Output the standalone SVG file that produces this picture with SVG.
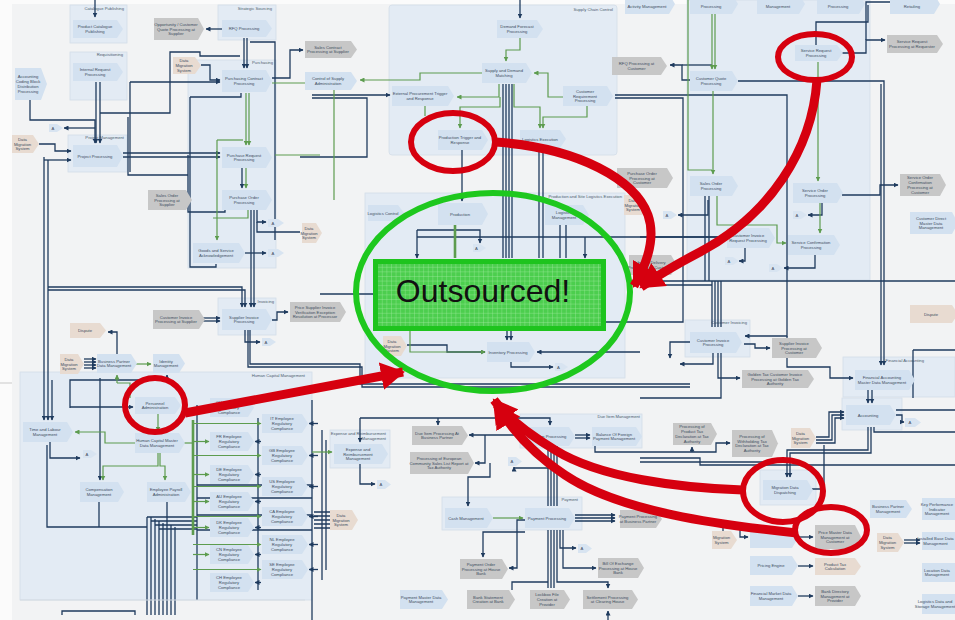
<svg xmlns="http://www.w3.org/2000/svg" width="955" height="620" viewBox="0 0 955 620">
<style>
.nb{fill:#d3e1f0}
.ng{fill:#c7c7c7}
.nt{fill:#e8dbd1}
.na{fill:#d8e4f1}
.reg{fill:#e3ebf4;stroke:#d3dde9;stroke-width:0.8}
.t{font-family:"Liberation Sans",Arial,sans-serif;font-size:4.2px;fill:#3d4d5e;text-anchor:middle}
.rt{font-family:"Liberation Sans",Arial,sans-serif;font-size:4.2px;fill:#4d5d6e;text-anchor:end}
.c{fill:none;stroke:#1f3b5e;stroke-width:1.3}
.g{fill:none;stroke:#5d9c4e;stroke-width:1.2}
.g2{fill:none;stroke:#5d9c4e;stroke-width:2.6}
.sep{fill:none;stroke:#d5dbe2;stroke-width:1}
.red{fill:none;stroke:#d6000f;stroke-width:6}
.ra{fill:none;stroke:#d6000f;stroke-width:9}
</style>
<defs>
<marker id="ad" markerUnits="userSpaceOnUse" markerWidth="5" markerHeight="5" refX="4.5" refY="2.5" orient="auto"><path d="M0,0L5,2.5L0,5z" fill="#1f3b5e"/></marker>
<marker id="ag" markerUnits="userSpaceOnUse" markerWidth="5" markerHeight="5" refX="4.5" refY="2.5" orient="auto"><path d="M0,0L5,2.5L0,5z" fill="#5d9c4e"/></marker>
<marker id="rh" markerUnits="userSpaceOnUse" markerWidth="26" markerHeight="28" refX="22" refY="14" orient="auto"><path d="M0,0L24,14L0,28z" fill="#d6000f"/></marker>
<pattern id="grid" width="4.6" height="4.6" patternUnits="userSpaceOnUse"><rect width="4.6" height="4.6" fill="#3ccb3c" fill-opacity="0.9"/><path d="M0,0H4.6M0,0V4.6" stroke="#a4eca4" stroke-width="0.7"/></pattern>
</defs>
<rect width="955" height="620" fill="#fbfbfb"/>
<rect x="12" y="4" width="943" height="616" fill="#f2f3f4"/>
<path d="M0,383H12" stroke="#c9c9c9" stroke-width="1"/>

<g id="regions">
<rect class="reg" x="70" y="5" width="57" height="38"/>
<rect class="reg" x="70" y="52" width="57" height="48"/>
<rect class="reg" x="218" y="5" width="58" height="35"/>
<rect class="reg" x="188" y="60" width="88" height="208"/>
<rect class="reg" x="68" y="135" width="59" height="37"/>
<rect class="reg" x="389" y="5" width="228" height="150" rx="3"/>
<rect class="reg" x="365" y="193" width="260" height="185"/>
<rect class="reg" x="687" y="0" width="183" height="280"/>
<rect class="reg" x="685" y="320" width="65" height="37"/>
<rect class="reg" x="218" y="298" width="58" height="37"/>
<rect class="reg" x="843" y="357" width="112" height="40"/>
<rect class="reg" x="842" y="398" width="60" height="32"/>
<rect class="reg" x="760" y="470" width="56" height="35"/>
<rect class="reg" x="20" y="372" width="292" height="228"/>
<rect class="reg" x="330" y="430" width="60" height="38"/>
<rect class="reg" x="442" y="497" width="140" height="33"/>
<rect class="reg" x="520" y="414" width="122" height="34"/>
<text class="rt" x="124" y="10">Catalogue Publishing</text>
<text class="rt" x="123" y="56">Requisitioning</text>
<text class="rt" x="272" y="10">Strategic Sourcing</text>
<text class="rt" x="273" y="64">Purchasing</text>
<text class="rt" x="124" y="139">Project Management</text>
<text class="rt" x="613" y="11">Supply Chain Control</text>
<text class="rt" x="622" y="198">Production and Site Logistics Execution</text>
<text class="rt" x="274" y="303">Invoicing</text>
<text class="rt" x="747" y="324">Customer Invoicing</text>
<text class="rt" x="924" y="362">Financial Accounting</text>
<text class="rt" x="305" y="377">Human Capital Management</text>
<text class="rt" x="386" y="435">Expense and Reimbursement</text>
<text class="rt" x="386" y="440">Management</text>
<text class="rt" x="578" y="501">Payment</text>
<text class="rt" x="640" y="418">Due Item Management</text>
</g>

<g id="connectors">
<path class="c" d="M95,0V17" marker-end="url(#ad)"/>
<path class="c" d="M222,29H206" marker-end="url(#ad)"/>
<path class="c" d="M244,38V68" marker-end="url(#ad)"/>
<path class="c" d="M247,38V68" marker-end="url(#ad)"/>
<path class="c" d="M250,42H275V240"/>
<path class="c" d="M201,65H210V80H220" marker-end="url(#ad)"/>
<path class="c" d="M272,78H290V50H303" marker-end="url(#ad)"/>
<path class="c" d="M130,82H220" marker-end="url(#ad)"/>
<path class="c" d="M130,82V172"/>
<path class="c" d="M190,97H241V93"/>
<path class="c" d="M190,97V267H216V264"/>
<path class="c" d="M96,82V143" marker-end="url(#ad)"/>
<path class="c" d="M100,82V143" marker-end="url(#ad)"/>
<path class="c" d="M100,113H170V52H200V56H240"/>
<path class="c" d="M123,153H220" marker-end="url(#ad)"/>
<path class="c" d="M123,157H220" marker-end="url(#ad)"/>
<path class="c" d="M39,144H55V151H71" marker-end="url(#ad)"/>
<path class="c" d="M30,100V120H95V143" marker-end="url(#ad)"/>
<path class="c" d="M95,128H64" marker-end="url(#ad)"/>
<path class="c" d="M44,157V420" marker-end="url(#ad)"/>
<path class="c" d="M48,160V420" marker-end="url(#ad)"/>
<path class="c" d="M52,380V420" marker-end="url(#ad)"/>
<path class="c" d="M44,160H71" marker-end="url(#ad)"/>
<path class="c" d="M128,117V175H188"/>
<path class="c" d="M188,155V212H225V209"/>
<path class="c" d="M242,168V188" marker-end="url(#ad)"/>
<path class="c" d="M257,210V222H266" marker-end="url(#ad)"/>
<path class="c" d="M257,222V232H300"/>
<path class="c" d="M245,253H266" marker-end="url(#ad)"/>
<path class="c" d="M48,287H242V307" marker-end="url(#ad)"/>
<path class="c" d="M48,290H245V307" marker-end="url(#ad)"/>
<path class="c" d="M251,210V307" marker-end="url(#ad)"/>
<path class="c" d="M254,210V307" marker-end="url(#ad)"/>
<path class="c" d="M203,318H220" marker-end="url(#ad)"/>
<path class="c" d="M203,321H220" marker-end="url(#ad)"/>
<path class="c" d="M272,320H277V312H288" marker-end="url(#ad)"/>
<path class="c" d="M245,330V342H260" marker-end="url(#ad)"/>
<path class="c" d="M248,330V367H362V387H690"/>
<path class="c" d="M250,330V364H360V384H690"/>
<path class="c" d="M84,359H96" marker-end="url(#ad)"/>
<path class="c" d="M84,362H96" marker-end="url(#ad)"/>
<path class="c" d="M84,365H96" marker-end="url(#ad)"/>
<path class="c" d="M84,368H96" marker-end="url(#ad)"/>
<path class="c" d="M117,354V332H108" marker-end="url(#ad)"/>
<path class="c" d="M70,408V380H167V375" marker-end="url(#ad)"/>
<path class="c" d="M70,407H133" marker-end="url(#ad)"/>
<path class="c" d="M100,378V480" marker-end="url(#ad)"/>
<path class="c" d="M47,445V527H147"/>
<path class="c" d="M99,502V527"/>
<path class="c" d="M50,442V458H80" marker-end="url(#ad)"/>
<path class="c" d="M147,517V615M151,517V615M155,519V615M159,521V615M163,523V615M167,502V615M171,525V615M175,527V615"/>
<path class="c" d="M147,517H197M151,521H197M155,525H197M159,529H197"/>
<path class="c" d="M62,615V611H135V615"/>
<path class="c" d="M197,405V600"/>
<path class="c" d="M312,400V620"/>
<path class="c" d="M258,418V590"/>
<path class="c" d="M197,485H312M197,498H312M197,515H312M197,530H312"/>
<path class="c" d="M318,423.5H309" marker-end="url(#ad)"/>
<path class="c" d="M318,455.5H309" marker-end="url(#ad)"/>
<path class="c" d="M318,486.5H309" marker-end="url(#ad)"/>
<path class="c" d="M318,516.5H309" marker-end="url(#ad)"/>
<path class="c" d="M318,544.5H309" marker-end="url(#ad)"/>
<path class="c" d="M318,569.5H309" marker-end="url(#ad)"/>
<path class="c" d="M261,441.5H255" marker-end="url(#ad)"/>
<path class="c" d="M261,474.5H255" marker-end="url(#ad)"/>
<path class="c" d="M261,501.5H255" marker-end="url(#ad)"/>
<path class="c" d="M261,527.5H255" marker-end="url(#ad)"/>
<path class="c" d="M261,554.5H255" marker-end="url(#ad)"/>
<path class="c" d="M261,582.5H255" marker-end="url(#ad)"/>
<path class="sep" d="M20,600H305"/>
<path class="c" d="M360,418H550V425" marker-end="url(#ad)"/>
<path class="c" d="M360,418V442" marker-end="url(#ad)"/>
<path class="c" d="M438,418V425" marker-end="url(#ad)"/>
<path class="c" d="M525,435H469" marker-end="url(#ad)"/>
<path class="c" d="M485,435V463H475" marker-end="url(#ad)"/>
<path class="c" d="M490,463V477H468V506" marker-end="url(#ad)"/>
<path class="c" d="M548,446V506M551,446V506M554,446V506M557,446V506"/>
<path class="c" d="M548,530V588M551,530V588M554,530V588"/>
<path class="c" d="M575,435H590" marker-end="url(#ad)"/>
<path class="c" d="M575,438H590" marker-end="url(#ad)"/>
<path class="c" d="M550,468H514V467" marker-end="url(#ad)"/>
<path class="c" d="M360,464V484H375" marker-end="url(#ad)"/>
<path class="c" d="M525,520H517V568H509" marker-end="url(#ad)"/>
<path class="c" d="M525,532H483V557" marker-end="url(#ad)"/>
<path class="c" d="M575,515H615" marker-end="url(#ad)"/>
<path class="c" d="M575,518H615" marker-end="url(#ad)"/>
<path class="c" d="M575,521H615" marker-end="url(#ad)"/>
<path class="c" d="M560,530V548H576" marker-end="url(#ad)"/>
<path class="c" d="M563,530V568H596" marker-end="url(#ad)"/>
<path class="c" d="M557,530V582H608V588" marker-end="url(#ad)"/>
<path class="c" d="M608,620V611" marker-end="url(#ad)"/>
<path class="c" d="M512,590V582H548"/>
<path class="c" d="M322,430V580M326,440V570"/>
<path class="c" d="M314,512H330M314,516H330M314,520H330M314,524H330M314,528H330"/>
<path class="c" d="M595,446V452H716V443H730" marker-end="url(#ad)"/>
<path class="c" d="M692,452V447" marker-end="url(#ad)"/>
<path class="c" d="M640,458H700V465H955"/>
<path class="c" d="M640,462H770"/>
<path class="c" d="M816,437H829V412H844" marker-end="url(#ad)"/>
<path class="c" d="M816,440H832V415H844" marker-end="url(#ad)"/>
<path class="c" d="M816,443H835V418H844" marker-end="url(#ad)"/>
<path class="c" d="M896,415H902V422H904" marker-end="url(#ad)"/>
<path class="c" d="M868,427V450H787V477" marker-end="url(#ad)"/>
<path class="c" d="M871,427V453H790V477" marker-end="url(#ad)"/>
<path class="c" d="M874,427V432H955"/>
<path class="c" d="M868,390V403" marker-end="url(#ad)"/>
<path class="c" d="M872,390V403" marker-end="url(#ad)"/>
<path class="c" d="M913,350V398M913,350H955M896,410H955"/>
<path class="c" d="M812,489H824V445"/>
<path class="c" d="M723,531V525H740V537H748" marker-end="url(#ad)"/>
<path class="c" d="M798,537H813" marker-end="url(#ad)"/>
<path class="c" d="M798,566H813" marker-end="url(#ad)"/>
<path class="c" d="M798,596H813" marker-end="url(#ad)"/>
<path class="c" d="M904,540H920" marker-end="url(#ad)"/>
<path class="c" d="M904,543H920" marker-end="url(#ad)"/>
<path class="c" d="M738,81H884V365" marker-end="url(#ad)"/>
<path class="c" d="M881,84V365" marker-end="url(#ad)"/>
<path class="c" d="M615,95H787V336H745" marker-end="url(#ad)"/>
<path class="c" d="M615,98H683V322H606"/>
<path class="c" d="M690,80H682V65H670" marker-end="url(#ad)"/>
<path class="c" d="M712,65H682"/>
<path class="c" d="M842,195H880V185H898" marker-end="url(#ad)"/>
<path class="c" d="M816,45V22H868V5"/>
<path class="c" d="M841,53H866V40H885" marker-end="url(#ad)"/>
<path class="c" d="M866,40V2H890"/>
<path class="c" d="M712,281V327M715,281V327M718,281V327M721,281V327"/>
<path class="c" d="M640,281H955"/>
<path class="c" d="M640,285H712"/>
<path class="c" d="M690,342H670V358" marker-end="url(#ad)"/>
<path class="c" d="M713,353V364H680" marker-end="url(#ad)"/>
<path class="c" d="M744,344H755V348H770" marker-end="url(#ad)"/>
<path class="c" d="M718,353V378H740" marker-end="url(#ad)"/>
<path class="c" d="M787,336V367H830V378H853" marker-end="url(#ad)"/>
<path class="c" d="M721,353V398H640"/>
<path class="c" d="M815,255V268H784" marker-end="url(#ad)"/>
<path class="c" d="M745,248V261H739" marker-end="url(#ad)"/>
<path class="c" d="M640,237H725" marker-end="url(#ad)"/>
<path class="c" d="M705,196V281M709,196V281"/>
<path class="c" d="M708,200V215H678" marker-end="url(#ad)"/>
<path class="c" d="M822,203V215H808" marker-end="url(#ad)"/>
<path class="c" d="M417,230H480V243" marker-end="url(#ad)"/>
<path class="c" d="M417,230V258" marker-end="url(#ad)"/>
<path class="c" d="M417,237H720"/>
<path class="c" d="M585,237V258" marker-end="url(#ad)"/>
<path class="c" d="M407,345H447V352H485" marker-end="url(#ad)"/>
<path class="c" d="M640,352H537" marker-end="url(#ad)"/>
<path class="c" d="M511,362V367H553" marker-end="url(#ad)"/>
<path class="c" d="M503,84V258M506,84V258M509,84V258M512,84V258"/>
<path class="c" d="M507,331V340" marker-end="url(#ad)"/>
<path class="c" d="M511,331V340" marker-end="url(#ad)"/>
<path class="c" d="M539,150V258M543,150V258"/>
<path class="c" d="M462,150V201" marker-end="url(#ad)"/>
<path class="c" d="M312,95H390" marker-end="url(#ad)"/>
<path class="c" d="M312,98H367V157H300"/>
<path class="c" d="M320,294H373"/>
<path class="c" d="M520,0V18" marker-end="url(#ad)"/>
<path class="c" d="M560,225V258M566,225V258"/>
<path class="g" d="M272,83H310" marker-end="url(#ag)"/>
<path class="g" d="M275,155H320"/>
<path class="g" d="M217,140V240" marker-end="url(#ag)"/>
<path class="g" d="M217,140H243"/>
<path class="g" d="M246,93V145" marker-end="url(#ag)"/>
<path class="g" d="M249,93V145" marker-end="url(#ag)"/>
<path class="g" d="M246,168V188" marker-end="url(#ag)"/>
<path class="g" d="M213,218H248V210"/>
<path class="g" d="M334,90V200"/>
<path class="g" d="M520,38V50H506V61" marker-end="url(#ag)"/>
<path class="g" d="M482,73H420V80H360" marker-end="url(#ag)"/>
<path class="g" d="M563,97H548V73H534" marker-end="url(#ag)"/>
<path class="g" d="M499,84V97H457" marker-end="url(#ag)"/>
<path class="g" d="M425,106V116"/>
<path class="g" d="M500,97V107H460V128" marker-end="url(#ag)"/>
<path class="g" d="M514,84V107H540V128" marker-end="url(#ag)"/>
<path class="g" d="M587,106V117H543V128" marker-end="url(#ag)"/>
<path class="g" d="M712,14V69" marker-end="url(#ag)"/>
<path class="g" d="M715,14V69" marker-end="url(#ag)"/>
<path class="g" d="M713,91V174" marker-end="url(#ag)"/>
<path class="g" d="M688,0V170H712"/>
<path class="g" d="M818,62V181" marker-end="url(#ag)"/>
<path class="g" d="M717,196V225H777V243H786" marker-end="url(#ag)"/>
<path class="g" d="M820,203V233" marker-end="url(#ag)"/>
<path class="g2" d="M455,225V258"/>
<path class="g" d="M410,331V352H485" marker-end="url(#ag)"/>
<path class="g" d="M493,518H523" marker-end="url(#ag)"/>
<path class="g" d="M312,452H332" marker-end="url(#ag)"/>
<path class="g" d="M135,364H151" marker-end="url(#ag)"/>
<path class="g" d="M117,383V375" marker-end="url(#ag)"/>
<path class="g" d="M117,383H130V398"/>
<path class="g" d="M158,414V431" marker-end="url(#ag)"/>
<path class="g" d="M135,443H105V432H75" marker-end="url(#ag)"/>
<path class="g" d="M158,453V466H103V480" marker-end="url(#ag)"/>
<path class="g" d="M160,453V466H165V480" marker-end="url(#ag)"/>
<path class="g" d="M183,443H193"/>
<path class="g2" d="M193,420V535"/>
<path class="g" d="M193,441.5H209" marker-end="url(#ag)"/>
<path class="g" d="M193,474.5H209" marker-end="url(#ag)"/>
<path class="g" d="M193,501.5H209" marker-end="url(#ag)"/>
<path class="g" d="M193,527.5H209" marker-end="url(#ag)"/>
<path class="g" d="M193,554.5H209" marker-end="url(#ag)"/>
<path class="g" d="M193,423.5H261" marker-end="url(#ag)"/>
<path class="g" d="M193,455.5H261" marker-end="url(#ag)"/>
<path class="g" d="M193,486.5H261" marker-end="url(#ag)"/>
<path class="g" d="M193,516.5H261" marker-end="url(#ag)"/>
<path class="g" d="M193,544.5H261" marker-end="url(#ag)"/>
<path class="g" d="M193,569.5H261" marker-end="url(#ag)"/>
</g>

<g id="nodes">
<g id="n1"><path class="nb" d="M73,20h44l6,9l-6,9h-44z"/><text class="t" y="28.1"><tspan x="95">Product Catalogue</tspan><tspan x="95" dy="4.8">Publishing</tspan></text></g>
<g id="n2"><path class="ng" d="M154,18h44l6,11l-6,11h-44z"/><text class="t" y="25.7"><tspan x="176">Opportunity / Customer</tspan><tspan x="176" dy="4.8">Quote Processing at</tspan><tspan x="176" dy="4.8">Supplier</tspan></text></g>
<g id="n3"><path class="nb" d="M222,20h44l6,8.5l-6,8.5h-44z"/><text class="t" x="244" y="30">RFQ Processing</text></g>
<g id="n4"><path class="nb" d="M73,63h44l6,9l-6,9h-44z"/><text class="t" y="71.1"><tspan x="95">Internal Request</tspan><tspan x="95" dy="4.8">Processing</tspan></text></g>
<g id="n5"><path class="nb" d="M15,68h26l6,16l-6,16h-26z"/><text class="t" y="78.3"><tspan x="28">Accounting</tspan><tspan x="28" dy="4.8">Coding Block</tspan><tspan x="28" dy="4.8">Distribution</tspan><tspan x="28" dy="4.8">Processing</tspan></text></g>
<g id="n6"><path class="nt" d="M173,57h22l6,8.5l-6,8.5h-22z"/><text class="t" y="62.2"><tspan x="184">Data</tspan><tspan x="184" dy="4.8">Migration</tspan><tspan x="184" dy="4.8">System</tspan></text></g>
<g id="n7"><path class="nb" d="M222,70h44l6,11l-6,11h-44z"/><text class="t" y="80.1"><tspan x="244">Purchasing Contract</tspan><tspan x="244" dy="4.8">Processing</tspan></text></g>
<g id="a1"><path class="na" d="M49,124h8l6,4l-6,4h-8z"/><text class="t" x="53" y="129.6">A</text></g>
<g id="n9"><path class="nt" d="M12,135h21l6,9l-6,9h-21z"/><text class="t" y="140.7"><tspan x="22.5">Data</tspan><tspan x="22.5" dy="4.8">Migration</tspan><tspan x="22.5" dy="4.8">System</tspan></text></g>
<g id="n10"><path class="nb" d="M73,145h44l6,11l-6,11h-44z"/><text class="t" x="95" y="157.5">Project Processing</text></g>
<g id="n11"><path class="nb" d="M222,147h44l6,10.5l-6,10.5h-44z"/><text class="t" y="156.6"><tspan x="244">Purchase Request</tspan><tspan x="244" dy="4.8">Processing</tspan></text></g>
<g id="n12"><path class="ng" d="M148,190h38l6,10l-6,10h-38z"/><text class="t" y="196.7"><tspan x="167">Sales Order</tspan><tspan x="167" dy="4.8">Processing at</tspan><tspan x="167" dy="4.8">Supplier</tspan></text></g>
<g id="n13"><path class="nb" d="M222,190h44l6,10l-6,10h-44z"/><text class="t" y="199.1"><tspan x="244">Purchase Order</tspan><tspan x="244" dy="4.8">Processing</tspan></text></g>
<g id="n14"><path class="ng" d="M305,41h46l6,8.5l-6,8.5h-46z"/><text class="t" y="48.6"><tspan x="328">Sales Contract</tspan><tspan x="328" dy="4.8">Processing at Supplier</tspan></text></g>
<g id="n15"><path class="nb" d="M305,72h46l6,9l-6,9h-46z"/><text class="t" y="80.1"><tspan x="328">Control of Supply</tspan><tspan x="328" dy="4.8">Administration</tspan></text></g>
<g id="n16"><path class="nb" d="M497,20h40l6,9l-6,9h-40z"/><text class="t" y="28.1"><tspan x="517">Demand Forecast</tspan><tspan x="517" dy="4.8">Processing</tspan></text></g>
<g id="n17"><path class="nb" d="M482,63h44l6,10l-6,10h-44z"/><text class="t" y="72.1"><tspan x="504">Supply and Demand</tspan><tspan x="504" dy="4.8">Matching</tspan></text></g>
<g id="n18"><path class="nb" d="M392,86h56l6,10l-6,10h-56z"/><text class="t" y="95.1"><tspan x="420">External Procurement Trigger</tspan><tspan x="420" dy="4.8">and Response</tspan></text></g>
<g id="n19"><path class="nb" d="M563,86h44l6,10l-6,10h-44z"/><text class="t" y="92.7"><tspan x="585">Customer</tspan><tspan x="585" dy="4.8">Requirement</tspan><tspan x="585" dy="4.8">Processing</tspan></text></g>
<g id="n20"><path class="nb" d="M438,130h44l6,10l-6,10h-44z"/><text class="t" y="139.1"><tspan x="460">Production Trigger and</tspan><tspan x="460" dy="4.8">Response</tspan></text></g>
<g id="n21"><path class="nb" d="M520,130h40l6,9l-6,9h-40z"/><text class="t" x="540" y="140.5">Logistics Execution</text></g>
<g id="n22"><path class="nb" d="M625,-6h44l6,10l-6,10h-44z"/><text class="t" x="647" y="8">Activity Management</text></g>
<g id="n23"><path class="nb" d="M690,-6h42l6,10l-6,10h-42z"/><text class="t" x="711" y="8">Processing</text></g>
<g id="n24"><path class="nb" d="M757,-6h42l6,10l-6,10h-42z"/><text class="t" x="778" y="8">Management</text></g>
<g id="n25"><path class="nb" d="M817,-6h42l6,10l-6,10h-42z"/><text class="t" x="838" y="8">Processing</text></g>
<g id="n26"><path class="nb" d="M890,-6h44l6,10l-6,10h-44z"/><text class="t" x="912" y="8">Retailing</text></g>
<g id="n27"><path class="ng" d="M887,35h50l6,9l-6,9h-50z"/><text class="t" y="43.1"><tspan x="912">Service Request</tspan><tspan x="912" dy="4.8">Processing at Requester</tspan></text></g>
<g id="n28"><path class="nb" d="M795,45h42l6,8l-6,8h-42z"/><text class="t" y="52.1"><tspan x="816">Service Request</tspan><tspan x="816" dy="4.8">Processing</tspan></text></g>
<g id="n29"><path class="ng" d="M612,57h49l6,9l-6,9h-49z"/><text class="t" y="65.1"><tspan x="636.5">RFQ Processing at</tspan><tspan x="636.5" dy="4.8">Customer</tspan></text></g>
<g id="n30"><path class="nb" d="M690,71h42l6,10l-6,10h-42z"/><text class="t" y="80.1"><tspan x="711">Customer Quote</tspan><tspan x="711" dy="4.8">Processing</tspan></text></g>
<g id="n31"><path class="ng" d="M617,168h50l6,10l-6,10h-50z"/><text class="t" y="174.7"><tspan x="642">Purchase Order</tspan><tspan x="642" dy="4.8">Processing at</tspan><tspan x="642" dy="4.8">Customer</tspan></text></g>
<g id="n32"><path class="nb" d="M690,176h42l6,10l-6,10h-42z"/><text class="t" y="185.1"><tspan x="711">Sales Order</tspan><tspan x="711" dy="4.8">Processing</tspan></text></g>
<g id="n33"><path class="nb" d="M793,183h44l6,10l-6,10h-44z"/><text class="t" y="192.1"><tspan x="815">Service Order</tspan><tspan x="815" dy="4.8">Processing</tspan></text></g>
<g id="n34"><path class="ng" d="M900,174h40l6,11l-6,11h-40z"/><text class="t" y="179.3"><tspan x="920">Service Order</tspan><tspan x="920" dy="4.8">Confirmation</tspan><tspan x="920" dy="4.8">Processing at</tspan><tspan x="920" dy="4.8">Customer</tspan></text></g>
<g id="n35"><path class="nt" d="M624,195h18l6,10l-6,10h-18z"/><text class="t" y="201.7"><tspan x="633">Data</tspan><tspan x="633" dy="4.8">Migration</tspan><tspan x="633" dy="4.8">System</tspan></text></g>
<g id="a2"><path class="na" d="M663,211h8l6,4l-6,4h-8z"/><text class="t" x="667" y="216.6">A</text></g>
<g id="a3"><path class="na" d="M793,211h8l6,4l-6,4h-8z"/><text class="t" x="797" y="216.6">A</text></g>
<g id="a4"><path class="na" d="M769,264h8l6,4l-6,4h-8z"/><text class="t" x="773" y="269.6">A</text></g>
<g id="a5"><path class="na" d="M725,257h8l6,4l-6,4h-8z"/><text class="t" x="729" y="262.6">A</text></g>
<g id="n36"><path class="nb" d="M727,228h42l6,10l-6,10h-42z"/><text class="t" y="237.1"><tspan x="748">Customer Invoice</tspan><tspan x="748" dy="4.8">Request Processing</tspan></text></g>
<g id="n37"><path class="nb" d="M788,235h46l6,10l-6,10h-46z"/><text class="t" y="244.1"><tspan x="811">Service Confirmation</tspan><tspan x="811" dy="4.8">Processing</tspan></text></g>
<g id="n38"><path class="ng" d="M629,255h42l6,10l-6,10h-42z"/><text class="t" y="264.1"><tspan x="650">Inbound Delivery</tspan><tspan x="650" dy="4.8">Processing at Customer</tspan></text></g>
<g id="n39"><path class="nb" d="M690,332h46l6,10.5l-6,10.5h-46z"/><text class="t" y="341.6"><tspan x="713">Customer Invoice</tspan><tspan x="713" dy="4.8">Processing</tspan></text></g>
<g id="n40"><path class="ng" d="M772,338h44l6,10l-6,10h-44z"/><text class="t" y="344.7"><tspan x="794">Supplier Invoice</tspan><tspan x="794" dy="4.8">Processing at</tspan><tspan x="794" dy="4.8">Customer</tspan></text></g>
<g id="n41"><path class="ng" d="M742,370h66l6,9l-6,9h-66z"/><text class="t" y="375.7"><tspan x="775">Golden Tax Customer Invoice</tspan><tspan x="775" dy="4.8">Processing at Golden Tax</tspan><tspan x="775" dy="4.8">Authority</tspan></text></g>
<g id="n42"><path class="nb" d="M910,212h42l6,11l-6,11h-42z"/><text class="t" y="219.7"><tspan x="931">Customer Direct</tspan><tspan x="931" dy="4.8">Master Data</tspan><tspan x="931" dy="4.8">Management</tspan></text></g>
<g id="n43"><path class="nt" d="M910,305h42l6,9l-6,9h-42z"/><text class="t" x="931" y="315.5">Dispute</text></g>
<g id="n44"><path class="nb" d="M855,370h54l6,10l-6,10h-54z"/><text class="t" y="379.1"><tspan x="882">Financial Accounting</tspan><tspan x="882" dy="4.8">Master Data Management</tspan></text></g>
<g id="n45"><path class="ng" d="M673,423h38l6,11l-6,11h-38z"/><text class="t" y="428.3"><tspan x="692">Processing of</tspan><tspan x="692" dy="4.8">Product Tax</tspan><tspan x="692" dy="4.8">Declaration at Tax</tspan><tspan x="692" dy="4.8">Authority</tspan></text></g>
<g id="n46"><path class="ng" d="M732,430h40l6,13.5l-6,13.5h-40z"/><text class="t" y="437.8"><tspan x="752">Processing of</tspan><tspan x="752" dy="4.8">Withholding Tax</tspan><tspan x="752" dy="4.8">Declaration at Tax</tspan><tspan x="752" dy="4.8">Authority</tspan></text></g>
<g id="n47"><path class="nt" d="M791,428h19l6,10l-6,10h-19z"/><text class="t" y="434.7"><tspan x="800.5">Data</tspan><tspan x="800.5" dy="4.8">Migration</tspan><tspan x="800.5" dy="4.8">System</tspan></text></g>
<g id="n48"><path class="nb" d="M846,405h44l6,10l-6,10h-44z"/><text class="t" x="868" y="416.5">Accounting</text></g>
<g id="a6"><path class="na" d="M905,418h10l6,4.5l-6,4.5h-10z"/><text class="t" x="910" y="424">A</text></g>
<g id="n50"><path class="nb" d="M763,480h44l6,10l-6,10h-44z"/><text class="t" y="489.1"><tspan x="785">Migration Data</tspan><tspan x="785" dy="4.8">Dispatching</tspan></text></g>
<g id="n51"><path class="nb" d="M870,500h36l6,9l-6,9h-36z"/><text class="t" y="508.1"><tspan x="888">Business Partner</tspan><tspan x="888" dy="4.8">Management</tspan></text></g>
<g id="n52"><path class="nb" d="M922,498h34l6,11l-6,11h-34z"/><text class="t" y="505.7"><tspan x="937">Key Performance</tspan><tspan x="937" dy="4.8">Indicator</tspan><tspan x="937" dy="4.8">Management</tspan></text></g>
<g id="n53"><path class="nt" d="M712,531h19l6,9l-6,9h-19z"/><text class="t" y="539.1"><tspan x="721.5">Migration</tspan><tspan x="721.5" dy="4.8">System</tspan></text></g>
<g id="n54"><path class="nb" d="M750,528h42l6,10l-6,10h-42z"/></g>
<g id="n55"><path class="ng" d="M815,525h40l6,12l-6,12h-40z"/><text class="t" y="533.7"><tspan x="835">Price Master Data</tspan><tspan x="835" dy="4.8">Management at</tspan><tspan x="835" dy="4.8">Customer</tspan></text></g>
<g id="n56"><path class="nt" d="M877,533h21l6,9.5l-6,9.5h-21z"/><text class="t" y="539.2"><tspan x="887.5">Data</tspan><tspan x="887.5" dy="4.8">Migration</tspan><tspan x="887.5" dy="4.8">System</tspan></text></g>
<g id="n57"><path class="nb" d="M922,532h34l6,9l-6,9h-34z"/><text class="t" y="540.1"><tspan x="935.5">Installed Base Data</tspan><tspan x="935.5" dy="4.8">Management</tspan></text></g>
<g id="n58"><path class="nb" d="M750,556h42l6,9.5l-6,9.5h-42z"/><text class="t" x="771" y="567">Pricing Engine</text></g>
<g id="n59"><path class="nt" d="M815,558h40l6,8.5l-6,8.5h-40z"/><text class="t" y="565.6"><tspan x="835">Product Tax</tspan><tspan x="835" dy="4.8">Calculation</tspan></text></g>
<g id="n60"><path class="nb" d="M922,563h34l6,9.5l-6,9.5h-34z"/><text class="t" y="571.6"><tspan x="937">Location Data</tspan><tspan x="937" dy="4.8">Management</tspan></text></g>
<g id="n61"><path class="nb" d="M750,586h42l6,10l-6,10h-42z"/><text class="t" y="595.1"><tspan x="771">Financial Market Data</tspan><tspan x="771" dy="4.8">Management</tspan></text></g>
<g id="n62"><path class="ng" d="M815,586h40l6,10l-6,10h-40z"/><text class="t" y="592.7"><tspan x="835">Bank Directory</tspan><tspan x="835" dy="4.8">Management at</tspan><tspan x="835" dy="4.8">Provider</tspan></text></g>
<g id="n63"><path class="nb" d="M922,594h34l6,10l-6,10h-34z"/><text class="t" y="603.1"><tspan x="935">Logistics Data and</tspan><tspan x="935" dy="4.8">Storage Management</tspan></text></g>
<g id="n64"><path class="ng" d="M412,426h50l6,9.5l-6,9.5h-50z"/><text class="t" y="434.6"><tspan x="437">Due Item Processing At</tspan><tspan x="437" dy="4.8">Business Partner</tspan></text></g>
<g id="n65"><path class="nb" d="M525,427h44l6,9.5l-6,9.5h-44z"/><text class="t" x="547" y="438">Due Item Processing</text></g>
<g id="n66"><path class="nb" d="M592,427h44l6,9.5l-6,9.5h-44z"/><text class="t" y="435.6"><tspan x="614">Balance Of Foreign</tspan><tspan x="614" dy="4.8">Payment Management</tspan></text></g>
<g id="n67"><path class="ng" d="M410,452h58l6,11l-6,11h-58z"/><text class="t" y="459.7"><tspan x="439">Processing of European</tspan><tspan x="439" dy="4.8">Community Sales List Report at</tspan><tspan x="439" dy="4.8">Tax Authority</tspan></text></g>
<g id="a7"><path class="na" d="M508,457h8l6,4.5l-6,4.5h-8z"/><text class="t" x="512" y="463">A</text></g>
<g id="n69"><path class="nb" d="M334,444h48l6,10l-6,10h-48z"/><text class="t" y="450.7"><tspan x="358">Expense and</tspan><tspan x="358" dy="4.8">Reimbursement</tspan><tspan x="358" dy="4.8">Management</tspan></text></g>
<g id="a8"><path class="na" d="M377,480h8l6,4.5l-6,4.5h-8z"/><text class="t" x="381" y="486">A</text></g>
<g id="n71"><path class="nb" d="M445,508h42l6,10l-6,10h-42z"/><text class="t" x="466" y="519.5">Cash Management</text></g>
<g id="n72"><path class="nb" d="M525,508h44l6,10l-6,10h-44z"/><text class="t" x="547" y="519.5">Payment Processing</text></g>
<g id="n73"><path class="ng" d="M620,510h36l6,9l-6,9h-36z"/><text class="t" y="518.1"><tspan x="638">Payment Processing</tspan><tspan x="638" dy="4.8">at Business Partner</tspan></text></g>
<g id="a9"><path class="na" d="M578,544h8l6,4.5l-6,4.5h-8z"/><text class="t" x="582" y="550">A</text></g>
<g id="n75"><path class="ng" d="M460,559h42l6,10l-6,10h-42z"/><text class="t" y="565.7"><tspan x="481">Payment Order</tspan><tspan x="481" dy="4.8">Processing at House</tspan><tspan x="481" dy="4.8">Bank</tspan></text></g>
<g id="n76"><path class="ng" d="M598,558h40l6,10l-6,10h-40z"/><text class="t" y="564.7"><tspan x="618">Bill Of Exchange</tspan><tspan x="618" dy="4.8">Processing at House</tspan><tspan x="618" dy="4.8">Bank</tspan></text></g>
<g id="n77"><path class="nt" d="M330,510h22l6,10l-6,10h-22z"/><text class="t" y="516.7"><tspan x="341">Data</tspan><tspan x="341" dy="4.8">Migration</tspan><tspan x="341" dy="4.8">System</tspan></text></g>
<g id="n78"><path class="nb" d="M400,590h42l6,9.5l-6,9.5h-42z"/><text class="t" y="598.6"><tspan x="421">Payment Master Data</tspan><tspan x="421" dy="4.8">Management</tspan></text></g>
<g id="n79"><path class="ng" d="M467,590h42l6,9.5l-6,9.5h-42z"/><text class="t" y="598.6"><tspan x="488">Bank Statement</tspan><tspan x="488" dy="4.8">Creation at Bank</tspan></text></g>
<g id="n80"><path class="ng" d="M530,590h34l6,9.5l-6,9.5h-34z"/><text class="t" y="596.2"><tspan x="547">Lockbox File</tspan><tspan x="547" dy="4.8">Creation at</tspan><tspan x="547" dy="4.8">Provider</tspan></text></g>
<g id="n81"><path class="ng" d="M583,590h49l6,9.5l-6,9.5h-49z"/><text class="t" y="598.6"><tspan x="607.5">Settlement Processing</tspan><tspan x="607.5" dy="4.8">at Clearing House</tspan></text></g>
<g id="n82"><path class="nb" d="M193,243h46l6,10l-6,10h-46z"/><text class="t" y="252.1"><tspan x="216">Goods and Service</tspan><tspan x="216" dy="4.8">Acknowledgement</tspan></text></g>
<g id="a10"><path class="na" d="M268,219h10l6,4l-6,4h-10z"/><text class="t" x="273" y="224.6">A</text></g>
<g id="a11"><path class="na" d="M268,249h10l6,4l-6,4h-10z"/><text class="t" x="273" y="254.6">A</text></g>
<g id="n85"><path class="nt" d="M302,223h14l6,10l-6,10h-14z"/><text class="t" y="229.7"><tspan x="309">Data</tspan><tspan x="309" dy="4.8">Migration</tspan><tspan x="309" dy="4.8">System</tspan></text></g>
<g id="n86"><path class="nb" d="M222,309h44l6,10.5l-6,10.5h-44z"/><text class="t" y="318.6"><tspan x="244">Supplier Invoice</tspan><tspan x="244" dy="4.8">Processing</tspan></text></g>
<g id="a12"><path class="na" d="M262,338h8l6,4l-6,4h-8z"/><text class="t" x="266" y="343.6">A</text></g>
<g id="n88"><path class="ng" d="M153,310h46l6,9.5l-6,9.5h-46z"/><text class="t" y="318.6"><tspan x="176">Customer Invoice</tspan><tspan x="176" dy="4.8">Processing at Supplier</tspan></text></g>
<g id="n89"><path class="ng" d="M290,302h50l6,10l-6,10h-50z"/><text class="t" y="308.7"><tspan x="315">Price Supplier Invoice</tspan><tspan x="315" dy="4.8">Verification Exception</tspan><tspan x="315" dy="4.8">Resolution at Processor</tspan></text></g>
<g id="n90"><path class="nt" d="M70,323h30l6,7.5l-6,7.5h-30z"/><text class="t" x="85" y="332">Dispute</text></g>
<g id="n91"><path class="nt" d="M60,354h18l6,10l-6,10h-18z"/><text class="t" y="360.7"><tspan x="69">Data</tspan><tspan x="69" dy="4.8">Migration</tspan><tspan x="69" dy="4.8">System</tspan></text></g>
<g id="n92"><path class="nb" d="M97,354h34l6,9.5l-6,9.5h-34z"/><text class="t" y="362.6"><tspan x="114">Business Partner</tspan><tspan x="114" dy="4.8">Data Management</tspan></text></g>
<g id="n93"><path class="nb" d="M153,354h26l6,9.5l-6,9.5h-26z"/><text class="t" y="362.6"><tspan x="166">Identity</tspan><tspan x="166" dy="4.8">Management</tspan></text></g>
<g id="n94"><path class="nb" d="M368,205h30l6,8l-6,8h-30z"/><text class="t" x="383" y="214.5">Logistics Control</text></g>
<g id="n95"><path class="nb" d="M438,203h44l6,11l-6,11h-44z"/><text class="t" x="460" y="215.5">Production</text></g>
<g id="n96"><path class="nb" d="M545,205h38l6,10l-6,10h-38z"/><text class="t" y="214.1"><tspan x="564">Logistics</tspan><tspan x="564" dy="4.8">Management</tspan></text></g>
<g id="a13"><path class="na" d="M473,244h7l6,4l-6,4h-7z"/><text class="t" x="476.5" y="249.6">A</text></g>
<g id="n98"><path class="nt" d="M383,336h18l6,10l-6,10h-18z"/><text class="t" y="342.7"><tspan x="392">Data</tspan><tspan x="392" dy="4.8">Migration</tspan><tspan x="392" dy="4.8">System</tspan></text></g>
<g id="n99"><path class="nb" d="M487,342h42l6,10l-6,10h-42z"/><text class="t" x="508" y="353.5">Inventory Processing</text></g>
<g id="a14"><path class="na" d="M555,363h7l6,4l-6,4h-7z"/><text class="t" x="558.5" y="368.6">A</text></g>
<g id="n101"><path class="nb" d="M135,397h40l6,8.5l-6,8.5h-40z"/><text class="t" y="404.6"><tspan x="155">Personnel</tspan><tspan x="155" dy="4.8">Administration</tspan></text></g>
<g id="ntl"><path class="nb" d="M23,422h44l6,10l-6,10h-44z"/><text class="t" y="431.1"><tspan x="45">Time and Labour</tspan><tspan x="45" dy="4.8">Management</tspan></text></g>
<g id="nhc"><path class="nb" d="M135,433h44l6,10l-6,10h-44z"/><text class="t" y="442.1"><tspan x="157">Human Capital Master</tspan><tspan x="157" dy="4.8">Data Management</tspan></text></g>
<g id="a15"><path class="na" d="M83,450h8l6,4l-6,4h-8z"/><text class="t" x="87" y="455.6">A</text></g>
<g id="ncm"><path class="nb" d="M80,482h38l6,10l-6,10h-38z"/><text class="t" y="491.1"><tspan x="99">Compensation</tspan><tspan x="99" dy="4.8">Management</tspan></text></g>
<g id="nep"><path class="nb" d="M147,482h38l6,10l-6,10h-38z"/><text class="t" y="491.1"><tspan x="166">Employee Payroll</tspan><tspan x="166" dy="4.8">Administration</tspan></text></g>
<g id="c1"><path class="nb" d="M210,398h38l6,9.5l-6,9.5h-38z"/><text class="t" y="404.2"><tspan x="229">CH Employee</tspan><tspan x="229" dy="4.8">Regulatory</tspan><tspan x="229" dy="4.8">Compliance</tspan></text></g>
<g id="c2"><path class="nb" d="M210,432h38l6,9.5l-6,9.5h-38z"/><text class="t" y="438.2"><tspan x="229">FR Employee</tspan><tspan x="229" dy="4.8">Regulatory</tspan><tspan x="229" dy="4.8">Compliance</tspan></text></g>
<g id="c3"><path class="nb" d="M210,465h38l6,9.5l-6,9.5h-38z"/><text class="t" y="471.2"><tspan x="229">DE Employee</tspan><tspan x="229" dy="4.8">Regulatory</tspan><tspan x="229" dy="4.8">Compliance</tspan></text></g>
<g id="c4"><path class="nb" d="M210,492h38l6,9.5l-6,9.5h-38z"/><text class="t" y="498.2"><tspan x="229">AU Employee</tspan><tspan x="229" dy="4.8">Regulatory</tspan><tspan x="229" dy="4.8">Compliance</tspan></text></g>
<g id="c5"><path class="nb" d="M210,518h38l6,9.5l-6,9.5h-38z"/><text class="t" y="524.2"><tspan x="229">DK Employee</tspan><tspan x="229" dy="4.8">Regulatory</tspan><tspan x="229" dy="4.8">Compliance</tspan></text></g>
<g id="c6"><path class="nb" d="M210,545h38l6,9.5l-6,9.5h-38z"/><text class="t" y="551.2"><tspan x="229">CN Employee</tspan><tspan x="229" dy="4.8">Regulatory</tspan><tspan x="229" dy="4.8">Compliance</tspan></text></g>
<g id="c7"><path class="nb" d="M210,573h38l6,9.5l-6,9.5h-38z"/><text class="t" y="579.2"><tspan x="229">CH Employee</tspan><tspan x="229" dy="4.8">Regulatory</tspan><tspan x="229" dy="4.8">Compliance</tspan></text></g>
<g id="c8"><path class="nb" d="M262,414h40l6,9.5l-6,9.5h-40z"/><text class="t" y="420.2"><tspan x="282">IT Employee</tspan><tspan x="282" dy="4.8">Regulatory</tspan><tspan x="282" dy="4.8">Compliance</tspan></text></g>
<g id="c9"><path class="nb" d="M262,446h40l6,9.5l-6,9.5h-40z"/><text class="t" y="452.2"><tspan x="282">GB Employee</tspan><tspan x="282" dy="4.8">Regulatory</tspan><tspan x="282" dy="4.8">Compliance</tspan></text></g>
<g id="c10"><path class="nb" d="M262,477h40l6,9.5l-6,9.5h-40z"/><text class="t" y="483.2"><tspan x="282">US Employee</tspan><tspan x="282" dy="4.8">Regulatory</tspan><tspan x="282" dy="4.8">Compliance</tspan></text></g>
<g id="c11"><path class="nb" d="M262,507h40l6,9.5l-6,9.5h-40z"/><text class="t" y="513.2"><tspan x="282">CA Employee</tspan><tspan x="282" dy="4.8">Regulatory</tspan><tspan x="282" dy="4.8">Compliance</tspan></text></g>
<g id="c12"><path class="nb" d="M262,535h40l6,9.5l-6,9.5h-40z"/><text class="t" y="541.2"><tspan x="282">NL Employee</tspan><tspan x="282" dy="4.8">Regulatory</tspan><tspan x="282" dy="4.8">Compliance</tspan></text></g>
<g id="c13"><path class="nb" d="M262,560h40l6,9.5l-6,9.5h-40z"/><text class="t" y="566.2"><tspan x="282">SE Employee</tspan><tspan x="282" dy="4.8">Regulatory</tspan><tspan x="282" dy="4.8">Compliance</tspan></text></g>
</g>

<g id="outsourced">
<rect x="375.5" y="261.5" width="228" height="67" fill="url(#grid)" stroke="#1ec41e" stroke-width="5"/>
<text x="483" y="302" font-family="'Liberation Sans',Arial,sans-serif" font-size="32" fill="#111" text-anchor="middle">Outsourced!</text>
<ellipse cx="493" cy="292" rx="137" ry="99" fill="none" stroke="#1ec81e" stroke-width="6"/>
</g>

<g id="highlights">
<ellipse class="red" cx="453" cy="142" rx="42" ry="29"/>
<ellipse class="red" cx="815" cy="57" rx="37" ry="23"/>
<ellipse class="red" cx="155" cy="405" rx="30" ry="27"/>
<ellipse class="red" cx="783" cy="491" rx="40" ry="31"/>
<ellipse class="red" cx="831" cy="530" rx="36" ry="23"/>
<path class="ra" d="M495,142C580,148 635,180 648,215C656,238 648,262 634,286" marker-end="url(#rh)"/>
<path class="ra" d="M817,80C812,150 770,215 700,252C675,265 657,276 641,287" marker-end="url(#rh)"/>
<path class="ra" d="M185,413L403,372" marker-end="url(#rh)"/>
<path class="ra" d="M743,490C680,488 600,478 555,450C525,432 505,415 494,400" marker-end="url(#rh)"/>
<path class="ra" d="M797,533C720,525 620,512 565,475C535,455 512,430 497,405" marker-end="url(#rh)"/>
</g>
</svg>
